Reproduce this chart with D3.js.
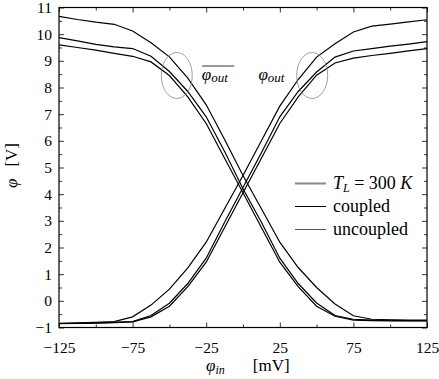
<!DOCTYPE html>
<html><head><meta charset="utf-8">
<script src="https://cdn.jsdelivr.net/npm/d3@7"></script>
<style>body{margin:0;background:#fff}</style>
</head><body>
<script>
// data
const xs = [-125,-112.5,-100,-87.5,-75,-62.5,-50,-37.5,-25,-12.5,0,12.5,25,37.5,50,62.5,75,87.5,100,112.5,125];
const riseA = [-0.84,-0.83,-0.81,-0.78,-0.6,-0.16,0.44,1.24,2.2,3.45,4.7,6.0,7.3,8.3,9.14,9.64,10.08,10.3,10.38,10.46,10.54];
const riseB = [-0.85,-0.84,-0.83,-0.81,-0.78,-0.55,-0.09,0.65,1.6,2.95,4.25,5.55,6.9,7.85,8.58,9.14,9.37,9.46,9.55,9.63,9.72];
const riseC = [-0.86,-0.85,-0.84,-0.82,-0.79,-0.6,-0.2,0.53,1.45,2.75,4.05,5.35,6.65,7.65,8.46,8.92,9.1,9.2,9.28,9.37,9.46];
const fallA = [10.67,10.55,10.45,10.37,10.12,9.68,9.15,8.35,7.35,6.05,4.7,3.45,2.2,1.25,0.5,-0.12,-0.56,-0.69,-0.71,-0.72,-0.72];
const fallB = [9.87,9.75,9.62,9.52,9.46,9.17,8.6,7.85,6.9,5.6,4.2,2.95,1.6,0.65,-0.08,-0.55,-0.69,-0.72,-0.73,-0.74,-0.74];
const fallC = [9.6,9.5,9.4,9.28,9.17,8.96,8.45,7.65,6.65,5.35,4.05,2.75,1.45,0.53,-0.2,-0.58,-0.72,-0.74,-0.75,-0.75,-0.75];
const xTickLabels = [-125,-75,-25,25,75,125];
const xMinor = [-100,-50,0,50,100];
const yTickLabels = [-1,0,1,2,3,4,5,6,7,8,9,10,11];
const legendItems = ["T_L = 300 K","coupled","uncoupled"];

const W=439,H=379;
const FONT="Liberation Serif";
const m={l:59,r:427,t:7.5,b:327.5};
const svg=d3.select("body").append("svg").attr("width",W).attr("height",H)
  .attr("font-family",FONT).style("font-family",FONT);
const x=d3.scaleLinear().domain([-125,125]).range([m.l,m.r]);
const y=d3.scaleLinear().domain([-1,11]).range([m.b,m.t]);
const fmt=d=>d<0?"\u2212"+Math.abs(d):String(d);

const yMinor=d3.range(-0.5,11,1);
function ax(gen,ticks,size,pos,label){
  const g=svg.append("g").attr("transform",pos).call(gen.tickValues(ticks).tickSize(size).tickSizeOuter(0).tickFormat(label?fmt:""));
  g.attr("font-family",FONT).attr("font-size",null);
  g.select(".domain").remove();
  g.selectAll("line").attr("stroke","#000").attr("stroke-width",0.8);
  g.selectAll("text").attr("fill","#000").attr("font-family",FONT);
  return g;
}
const gb=ax(d3.axisBottom(x),xTickLabels,-5,`translate(0,${m.b})`,true);
gb.selectAll("text").attr("y",14).attr("font-size",15.5);
ax(d3.axisBottom(x),xMinor,-3,`translate(0,${m.b})`,false);
ax(d3.axisTop(x),xTickLabels,-5,`translate(0,${m.t})`,false);
ax(d3.axisTop(x),xMinor,-3,`translate(0,${m.t})`,false);
const gl=ax(d3.axisLeft(y),yTickLabels,-5,`translate(${m.l},0)`,true);
gl.selectAll("text").attr("x",-7).attr("font-size",15.5);
ax(d3.axisLeft(y),yMinor,-3,`translate(${m.l},0)`,false);
ax(d3.axisRight(y),yTickLabels,-5,`translate(${m.r},0)`,false);
ax(d3.axisRight(y),yMinor,-3,`translate(${m.r},0)`,false);

svg.append("rect").attr("x",m.l).attr("y",m.t).attr("width",m.r-m.l).attr("height",m.b-m.t)
  .attr("fill","none").attr("stroke","#000").attr("stroke-width",1.2);

const line=d3.line().x((d,i)=>x(xs[i])).y(d=>y(d));
[riseA,riseB,riseC,fallA,fallB,fallC].forEach(s=>{
  svg.append("path").attr("d",line(s)).attr("fill","none").attr("stroke","#000").attr("stroke-width",1.2);
});

// ellipses
[[-45,8.45],[47,8.45]].forEach(([cx,cy])=>{
  svg.append("ellipse").attr("cx",x(cx)).attr("cy",y(cy)).attr("rx",15.5).attr("ry",23)
    .attr("fill","none").attr("stroke","#888").attr("stroke-width",0.8);
});
// annotation labels
const la=svg.append("text").attr("x",x(-28)).attr("y",80).attr("font-size",17).attr("font-style","italic").attr("font-family",FONT);
la.append("tspan").text("\u03c6");
la.append("tspan").attr("font-size",13).attr("dy",2).text("out");
svg.append("line").attr("x1",x(-27.8)).attr("x2",x(-6)).attr("y1",66).attr("y2",66).attr("stroke","#000").attr("stroke-width",0.8);
const lb=svg.append("text").attr("x",x(10.5)).attr("y",80).attr("font-size",17).attr("font-style","italic").attr("font-family",FONT);
lb.append("tspan").text("\u03c6");
lb.append("tspan").attr("font-size",13).attr("dy",2).text("out");

// legend
const lg=svg.append("g");
const lstyles=[{c:"#888",w:2},{c:"#000",w:1},{c:"#555",w:1}];
legendItems.forEach((t,i)=>{
  const yy=y(4.4)+i*23;
  lg.append("line").attr("x1",295).attr("x2",326).attr("y1",yy).attr("y2",yy).attr("stroke",lstyles[i].c).attr("stroke-width",lstyles[i].w);
  const tx=lg.append("text").attr("x",333).attr("y",yy+5).attr("font-size",18).attr("font-family",FONT);
  if(i===0){
    tx.append("tspan").attr("font-style","italic").text("T");
    tx.append("tspan").attr("font-style","italic").attr("font-size",12).attr("dy",3).text("L");
    tx.append("tspan").attr("dy",-3).text(" = 300 ");
    tx.append("tspan").attr("font-style","italic").text("K");
  } else tx.text(t);
});

// axis labels
const xl=svg.append("text").attr("x",206).attr("y",371).attr("font-size",17).attr("font-family",FONT);
xl.append("tspan").attr("font-style","italic").text("\u03c6");
xl.append("tspan").attr("font-style","italic").attr("font-size",12).attr("dy",3).text("in");
xl.append("tspan").attr("dy",-3).attr("dx",28).text("[mV]");
const yl=svg.append("text").attr("transform","translate(17,188) rotate(-90)").attr("font-size",17).attr("font-family",FONT);
yl.append("tspan").attr("font-style","italic").text("\u03c6");
yl.append("tspan").attr("dx",12).text("[V]");
</script>
</body></html>
